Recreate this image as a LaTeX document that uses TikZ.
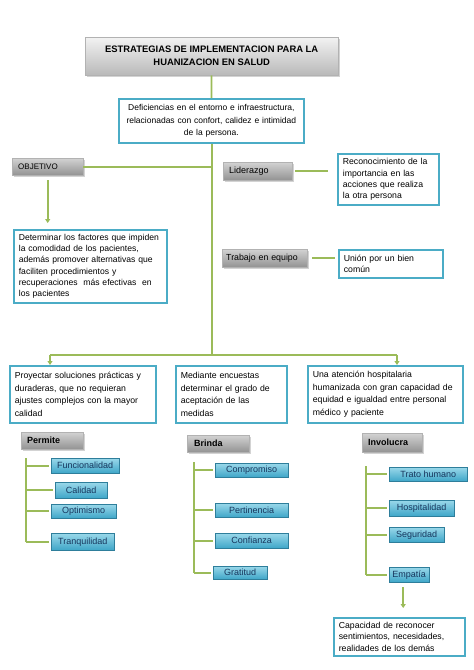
\documentclass[tikz,border=0pt]{standalone}
\usepackage{fontspec}
\setmainfont{Liberation Sans}
\usepackage{tikz}
\usetikzlibrary{arrows.meta, shadows}
\usepackage{xcolor}

\definecolor{lineGreen}{HTML}{9BBB59}
\definecolor{boxBlue}{HTML}{4BACC6}
\definecolor{itemTop}{HTML}{9AD8EA}
\definecolor{itemBot}{HTML}{3EA6C8}
\definecolor{itemEdge}{HTML}{2E7E9B}
\definecolor{itemText}{HTML}{17365D}

\begin{document}
\begin{tikzpicture}[
    x=1pt, y=-1pt,
    link/.style={draw=lineGreen, line width=1.7pt},
    arrow/.style={link, -{Triangle[width=5pt,length=4pt]}},
    graybox/.style={rectangle, draw=gray!60, top color=gray!35, bottom color=gray!85,
        anchor=north west, inner xsep=6pt, inner ysep=2pt, align=left,
        font=\fontsize{9}{11}\selectfont,
        drop shadow={opacity=0.35, shadow xshift=1.5pt, shadow yshift=-1.5pt}},
    textbox/.style={rectangle, draw=boxBlue, line width=1.7pt, fill=white,
        anchor=north west, align=left, inner xsep=5pt, inner ysep=3pt,
        font=\fontsize{8.7}{12.5}\selectfont,
        drop shadow={opacity=0.35, shadow xshift=1.5pt, shadow yshift=-1.5pt}},
    item/.style={rectangle, draw=itemEdge, top color=itemTop, bottom color=itemBot,
        text=itemText, anchor=north west, inner sep=1pt,
        font=\fontsize{9}{10}\selectfont,
        drop shadow={opacity=0.35, shadow xshift=1.2pt, shadow yshift=-1.2pt}}
]
\useasboundingbox (0,0) rectangle (474,670);

% ----- Title and root -----
\node[graybox, top color=gray!10, bottom color=gray!55, minimum width=253pt, minimum height=38pt,
    align=center, font=\bfseries\fontsize{9.4}{13}\selectfont] (title) at (85,37)
    {ESTRATEGIAS DE IMPLEMENTACION PARA LA\\ HUANIZACION EN SALUD};
\node[textbox, align=center, inner xsep=4pt, text width=177pt, minimum height=44pt,
    font=\fontsize{8.5}{12.5}\selectfont] (def) at (118,98)
    {Deficiencias en el entorno e infraestructura,\\ relacionadas con confort, calidez e intimidad\\ de la persona.};
\draw[link] (title) -- (def);

% ----- Trunk -----
\coordinate (hub) at (212,355);
\coordinate (hubL) at (50,355);
\coordinate (hubR) at (397,355);
\draw[link] (def.south -| hub) -- (hub);
\draw[link] (hubL) -- (hubR);

% ----- Objetivo -----
\node[graybox, minimum height=17pt, text width=59pt, font=\fontsize{8}{9}\selectfont] (obj) at (12,158) {OBJETIVO};
\node[textbox, text width=143pt, minimum height=73pt, font=\fontsize{8.6}{11.2}\selectfont] (det) at (13,229)
    {Determinar los factores que impiden\\ la comodidad de los pacientes,\\ además promover alternativas que\\ faciliten procedimientos y\\ recuperaciones\ \ más efectivas\ \ en\\ los pacientes};
\draw[link] (obj.east) -- (obj.east -| hub);
\draw[arrow, shorten <=5pt, shorten >=6pt] (obj.south) -- (obj.south |- det.north);

% ----- Liderazgo / Trabajo en equipo -----
\node[graybox, minimum height=18pt, text width=57pt] (lid) at (223,162) {Liderazgo};
\node[textbox, text width=91pt, minimum height=51pt, font=\fontsize{8.7}{11.2}\selectfont] (rec) at (337,153)
    {Reconocimiento de la\\ importancia en las\\ acciones que realiza\\ la otra persona};
\draw[link, shorten <=3pt, shorten >=9pt] (lid.east) -- (lid.east -| rec.west);

\node[graybox, minimum height=18pt, text width=77pt, inner xsep=4pt,
    font=\fontsize{8.8}{10}\selectfont] (trab) at (222,249) {Trabajo en equipo};
\node[textbox, text width=94pt, minimum height=28pt, font=\fontsize{8.7}{11.5}\selectfont] (union) at (338,249)
    {Unión por un bien\\ común};
\draw[link, shorten <=5pt, shorten >=3pt] (trab.east) -- (trab.east -| union.west);

% ----- Bottom row -----
\node[textbox, text width=136pt, minimum height=57pt] (proy) at (9,365)
    {Proyectar soluciones prácticas y\\ duraderas, que no requieran\\ ajustes complejos con la mayor\\ calidad};
\node[textbox, text width=101pt, minimum height=57pt] (enc) at (175,365)
    {Mediante encuestas\\ determinar el grado de\\ aceptación de las\\ medidas};
\node[textbox, text width=145pt, minimum height=57pt] (aten) at (307,365)
    {Una atención hospitalaria\\ humanizada con gran capacidad de\\ equidad e igualdad entre personal\\ médico y paciente};
\draw[arrow] (hubL) -- (hubL |- proy.north);
\draw[arrow] (hubR) -- (hubR |- aten.north);

% ----- Permite -----
\node[graybox, minimum height=17pt, text width=50pt,
    font=\bfseries\fontsize{9}{10}\selectfont] (perm) at (21,432) {Permite};
\coordinate (Pbar) at (26,458);
\foreach \i/\txt/\x/\y/\w/\h in {1/Funcionalidad/51/458/68/15, 2/Calidad/55/482/52/16,
    3/Optimismo/51/504/65/14, 4/Tranquilidad/51/533/63/17}{
    \node[item, minimum width=\w pt, minimum height=\h pt] (P\i) at (\x,\y) {\txt};
    \draw[link, shorten >=2pt] (P\i.west -| Pbar) -- (P\i.west);
}
\draw[link] (Pbar) -- (P4.west -| Pbar);

% ----- Brinda -----
\node[graybox, minimum height=17pt, text width=48pt, inner xsep=7pt,
    font=\bfseries\fontsize{9}{10}\selectfont] (brin) at (187,435) {Brinda};
\coordinate (Bbar) at (194,462);
\foreach \i/\txt/\x/\y/\w/\h in {1/Compromiso/215/463/73/14, 2/Pertinencia/215/503/73/14,
    3/Confianza/215/533/73/15, 4/Gratitud/213/566/54/13}{
    \node[item, minimum width=\w pt, minimum height=\h pt] (B\i) at (\x,\y) {\txt};
    \draw[link, shorten >=2pt] (B\i.west -| Bbar) -- (B\i.west);
}
\draw[link] (Bbar) -- (B4.west -| Bbar);

% ----- Involucra -----
\node[graybox, minimum height=19pt, text width=48pt,
    font=\bfseries\fontsize{9}{10}\selectfont] (invo) at (362,433) {Involucra};
\coordinate (Ibar) at (366,466);
\foreach \i/\txt/\x/\y/\w/\h in {1/Trato humano/389/467/78/14, 2/Hospitalidad/389/500/65/16,
    3/Seguridad/389/527/55/15, 4/Empatía/389/567/40/15}{
    \node[item, minimum width=\w pt, minimum height=\h pt] (I\i) at (\x,\y) {\txt};
    \draw[link, shorten >=2pt] (I\i.west -| Ibar) -- (I\i.west);
}
\draw[link] (Ibar) -- (I4.west -| Ibar);

\node[textbox, text width=121pt, minimum height=38pt, font=\fontsize{8.7}{11.5}\selectfont] (cap) at (333,617)
    {Capacidad de reconocer\\ sentimientos, necesidades,\\ realidades de los demás};
\draw[arrow, shorten <=5pt, shorten >=9pt] ([xshift=-6pt]I4.south) -- ([xshift=-6pt]I4.south |- cap.north);

\end{tikzpicture}
\end{document}
